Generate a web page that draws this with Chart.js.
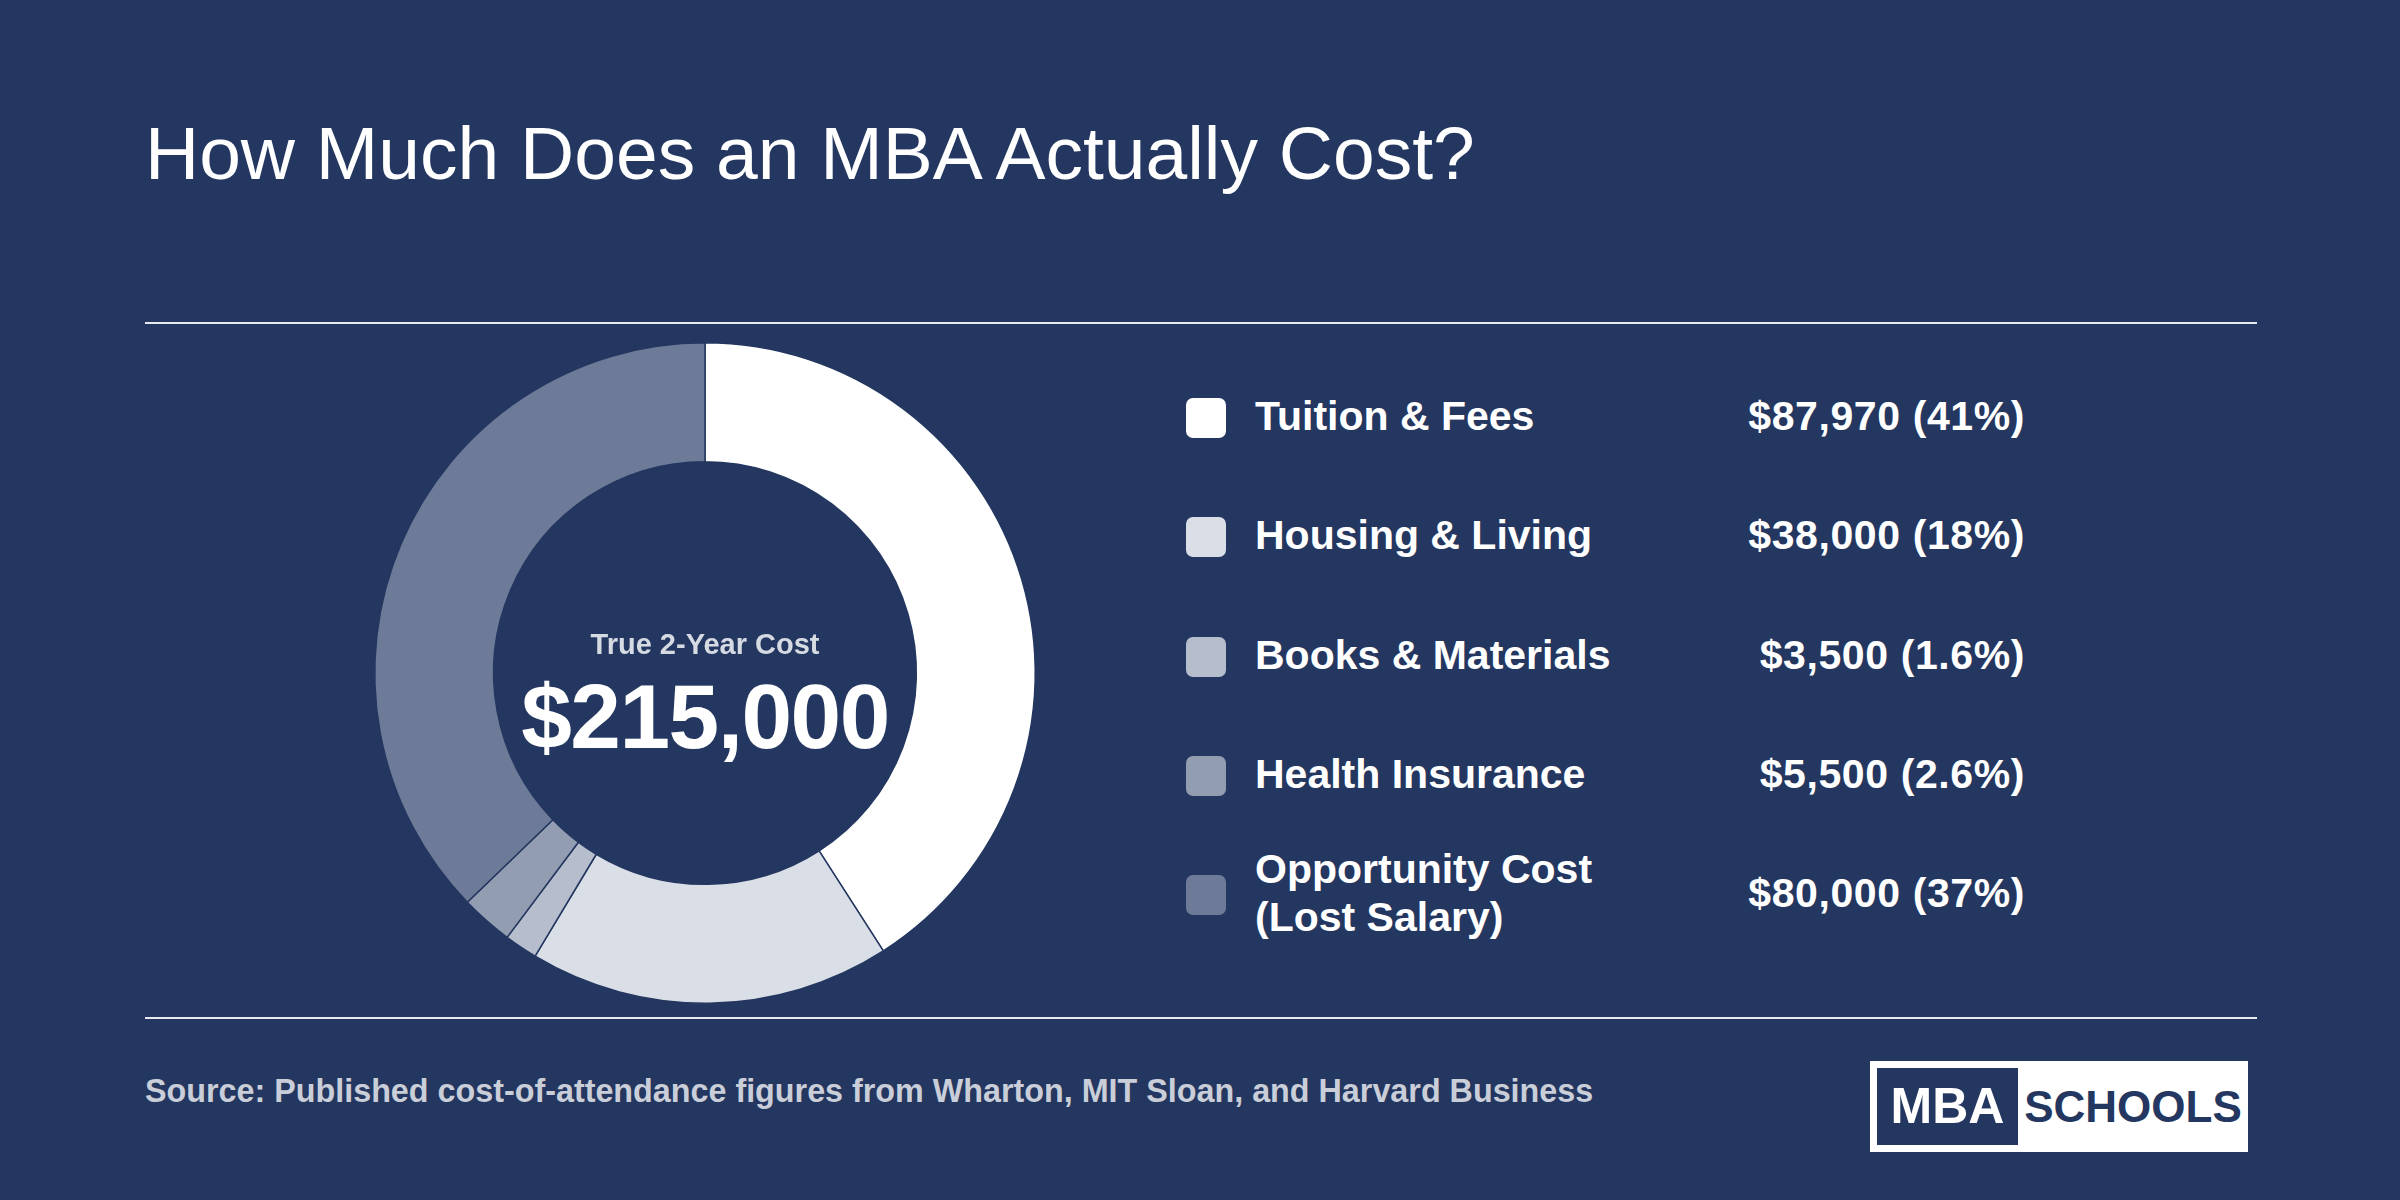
<!DOCTYPE html>
<html><head><meta charset="utf-8">
<script src="https://cdn.jsdelivr.net/npm/chart.js@4/dist/chart.umd.min.js"></script>
<style>
html,body{margin:0;padding:0;width:2400px;height:1200px;background:#243760;overflow:hidden;font-family:"Liberation Sans",Arial,sans-serif;color:#fff}
.abs{position:absolute}
#title{left:145px;top:116px;font-size:75px;font-weight:400;line-height:1}
.rule{left:145px;width:2112px;height:2px;background:#e6e9ef}
#chartBox{left:370px;top:338px;width:670px;height:670px}
#center1{left:505px;width:400px;text-align:center;top:628px;font-size:29px;font-weight:700;color:#d6dae3}
#center2{left:455px;width:500px;text-align:center;top:665px;font-size:91px;font-weight:700;letter-spacing:-1.5px}
.sw{width:40px;height:40px;border-radius:7px}
.lab{font-size:41px;font-weight:700;line-height:48px}
.val{font-size:41px;font-weight:700;width:600px;text-align:right;left:1425px;letter-spacing:0.6px}
#source{left:145px;top:1073px;font-size:32.3px;font-weight:700;color:#c9ced9}
#logo{left:1870px;top:1061px;width:378px;height:91px;background:#fff}
#logoL{position:absolute;left:7px;top:7px;width:141px;height:77px;background:#243760;color:#fff;font-size:50px;font-weight:700;text-align:center;line-height:77px}
#logoR{position:absolute;left:148px;width:230px;top:7px;height:77px;color:#243760;font-size:44px;font-weight:700;text-align:center;line-height:77px}
</style></head><body>
<div id="title" class="abs">How Much Does an MBA Actually Cost?</div>
<div class="abs rule" style="top:322px"></div>
<div class="abs rule" style="top:1017px"></div>
<div id="chartBox" class="abs"><canvas id="c"></canvas></div>
<div id="center1" class="abs">True 2-Year Cost</div>
<div id="center2" class="abs">$215,000</div>
<div id="legend"></div>
<div id="source" class="abs">Source: Published cost-of-attendance figures from Wharton, MIT Sloan, and Harvard Business</div>
<div id="logo" class="abs"><div id="logoL">MBA</div><div id="logoR">SCHOOLS</div></div>
<script>
const categories = ["Tuition & Fees", "Housing & Living", "Books & Materials", "Health Insurance", "Opportunity Cost\n(Lost Salary)"];
const values = [87970, 38000, 3500, 5500, 80000];
const valueLabels = ["$87,970 (41%)", "$38,000 (18%)", "$3,500 (1.6%)", "$5,500 (2.6%)", "$80,000 (37%)"];
const colors = ["#ffffff", "#dadee6", "#b6bdcc", "#929db2", "#6d7b98"];

const rowY = [418, 537, 657, 776, 895];
const lg = document.getElementById('legend');
categories.forEach((c, i) => {
  const y = rowY[i];
  const sw = document.createElement('div');
  sw.className = 'abs sw'; sw.style.left = '1186px'; sw.style.top = (y - 20) + 'px'; sw.style.background = colors[i];
  lg.appendChild(sw);
  const lines = c.split('\n');
  const lab = document.createElement('div');
  lab.className = 'abs lab'; lab.style.left = '1255px';
  lab.style.top = (y - lines.length * 48 / 2 - 2) + 'px';
  lab.innerHTML = lines.map(s => s.replace(/&/g, '&amp;')).join('<br>');
  lg.appendChild(lab);
  const v = document.createElement('div');
  v.className = 'abs val'; v.style.top = (y - 25) + 'px'; v.textContent = valueLabels[i];
  lg.appendChild(v);
});

new Chart(document.getElementById('c'), {
  type: 'doughnut',
  data: { labels: categories, datasets: [{ data: values, backgroundColor: colors, borderColor: '#243760', borderWidth: 1.5 }] },
  options: {
    responsive: true, maintainAspectRatio: false, animation: false,
    cutout: '64%', layout: { padding: 4 },
    plugins: { legend: { display: false }, tooltip: { enabled: false } }
  }
});
</script>
</body></html>
